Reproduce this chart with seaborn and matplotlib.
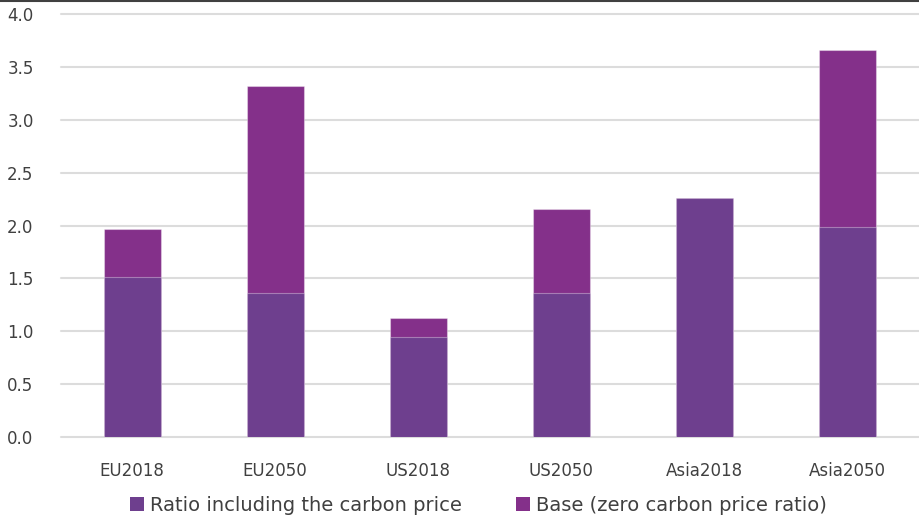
import matplotlib
matplotlib.use("Agg")
import matplotlib.pyplot as plt
from matplotlib.lines import Line2D
from matplotlib.patches import Patch
import seaborn as sns
import pandas as pd
import numpy as np

categories = ["EU2018", "EU2050", "US2018", "US2050", "Asia2018", "Asia2050"]
ratio_with_carbon = [1.51, 1.36, 0.95, 1.36, 2.26, 1.99]
base_extra = [0.46, 1.96, 0.18, 0.80, 0.00, 1.67]
y_ticks = [0.0, 0.5, 1.0, 1.5, 2.0, 2.5, 3.0, 3.5, 4.0]

series_names = ["Ratio including the carbon price", "Base (zero carbon price ratio)"]
c_bottom = "#6e3f8e"
c_top = "#84308a"
text_c = "#404040"

sns.set_theme(style="white")
plt.rcParams["font.family"] = ["DejaVu Sans"]

df = pd.DataFrame({
    "category": categories,
    "bottom": ratio_with_carbon,
    "total": np.array(ratio_with_carbon) + np.array(base_extra),
})

fig = plt.figure(figsize=(9.19, 5.18), dpi=100)
ax = fig.add_axes([0.066, 0.156, 0.934, 0.817])

# stacked bars: full height first, then the lower segment drawn over it
sns.barplot(data=df, x="category", y="total", color=c_top, width=0.40,
            edgecolor=(1, 1, 1, 0.35), linewidth=0.8, saturation=1, ax=ax, zorder=3)
sns.barplot(data=df, x="category", y="bottom", color=c_bottom, width=0.40,
            edgecolor=(1, 1, 1, 0.35), linewidth=0.8, saturation=1, ax=ax, zorder=4)

ax.set_xlim(-0.5, 5.5)
ax.set_ylim(0, 4.0)
ax.set_yticks(y_ticks)
ax.set_yticklabels([f"{v:.1f}" for v in y_ticks])
ax.yaxis.grid(True, color="#dcdcdc", linewidth=1.5, zorder=0)
for gl in ax.get_ygridlines():
    gl.set_clip_on(False)
ax.set_axisbelow(True)
for s in ax.spines.values():
    s.set_visible(False)
ax.set_xlabel("")
ax.set_ylabel("")
ax.tick_params(axis="y", length=0, pad=19.5, labelsize=12, labelcolor=text_c)
ax.tick_params(axis="x", length=0, pad=18, labelsize=12, labelcolor=text_c)

handles = [Patch(facecolor=c_bottom, edgecolor="none"),
           Patch(facecolor=c_top, edgecolor="none")]
fig.legend(handles, series_names, loc="lower center", bbox_to_anchor=(0.5207, -0.028),
           ncol=2, frameon=False, fontsize=14, labelcolor=text_c,
           handlelength=0.72, handleheight=0.72, handletextpad=0.3, columnspacing=2.8)

# thin dark rule along the top edge
fig.add_artist(Line2D([0, 1], [0.998, 0.998], transform=fig.transFigure,
                      color="#404040", linewidth=1.5))

fig.savefig("out.png", dpi=100)
